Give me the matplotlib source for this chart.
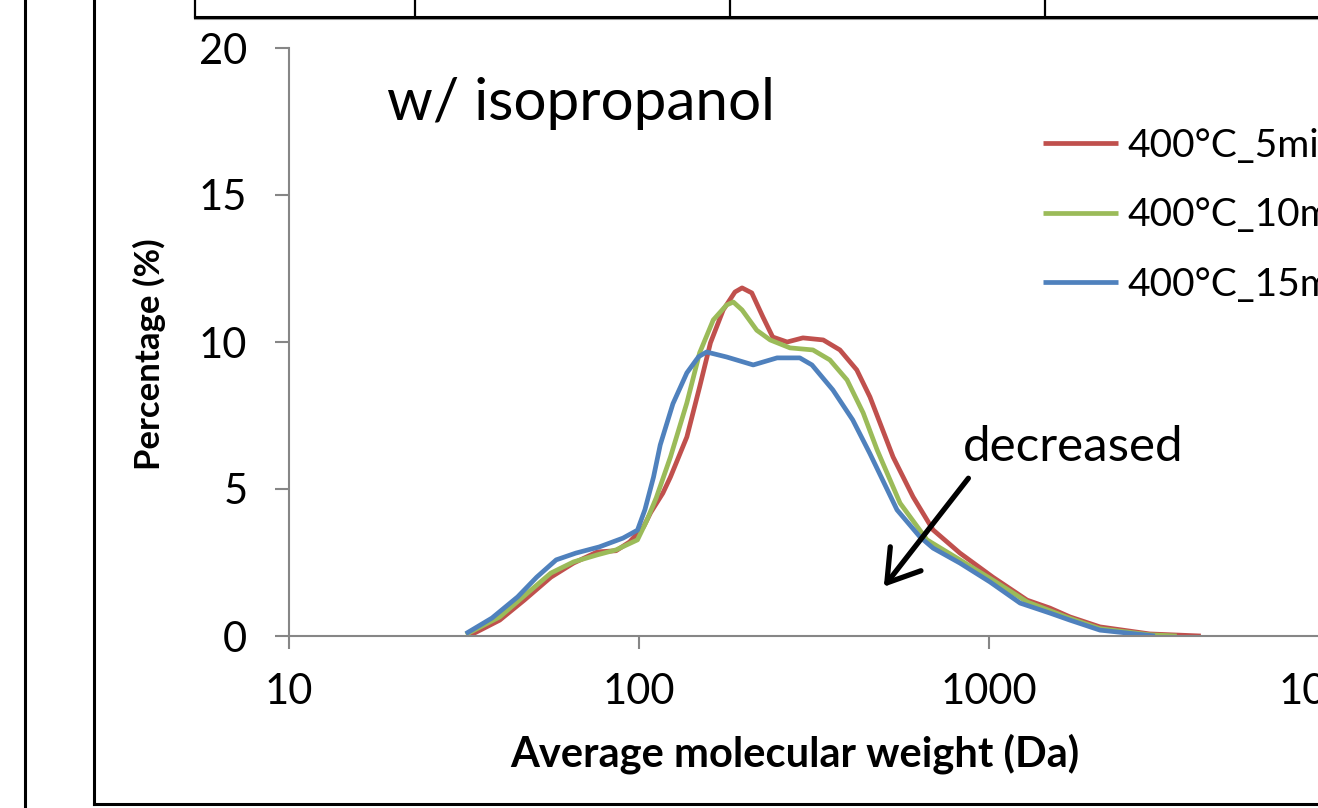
import matplotlib
matplotlib.use("Agg")
import matplotlib.pyplot as plt
from matplotlib.lines import Line2D
from matplotlib.ticker import NullLocator

plt.rcParams['font.family'] = ['Lato', 'DejaVu Sans']

# molecular weight (Da) and percentage (%) for each run
mw_5min = [33, 40, 47, 56, 65, 76, 86, 94, 103, 108, 117, 123, 137, 149, 160,
           174, 188, 197, 210, 226, 241, 265, 294, 336, 375, 419, 457, 532,
           607, 692, 826, 1026, 1285, 1493, 1703, 2075, 2880, 4030]
pct_5min = [0.03, 0.54, 1.22, 2.0, 2.48, 2.86, 2.9, 3.2, 3.71, 4.2, 4.86, 5.41,
            6.77, 8.47, 9.97, 11.09, 11.7, 11.84, 11.67, 10.85, 10.17, 10.0,
            10.14, 10.07, 9.73, 9.05, 8.13, 6.09, 4.73, 3.61, 2.82, 2.0, 1.22,
            0.95, 0.65, 0.31, 0.07, 0.0]

mw_10min = [32, 40, 48, 56, 65, 76, 86, 99, 105, 112, 123, 137, 149, 163, 178,
            186, 197, 217, 237, 270, 314, 351, 393, 437, 479, 557, 665, 826,
            1026, 1285, 1703, 2075, 2880, 3440]
pct_10min = [0.05, 0.65, 1.46, 2.14, 2.52, 2.76, 2.93, 3.27, 3.9, 4.7, 6.09,
             7.93, 9.63, 10.75, 11.26, 11.36, 11.09, 10.4, 10.07, 9.8, 9.73,
             9.39, 8.71, 7.59, 6.33, 4.52, 3.27, 2.59, 1.9, 1.16, 0.6, 0.25,
             0.04, 0.0]

mw_15min = [32, 38, 45, 51, 58, 66, 77, 90, 99, 104, 110, 115, 125, 137, 148,
            156, 178, 212, 248, 288, 312, 358, 408, 457, 546, 635, 692, 826,
            1006, 1227, 1493, 1703, 2075, 2980]
pct_15min = [0.08, 0.61, 1.33, 2.0, 2.59, 2.82, 3.03, 3.33, 3.6, 4.3, 5.4, 6.5,
             7.9, 8.95, 9.5, 9.66, 9.49, 9.22, 9.46, 9.46, 9.22, 8.37, 7.35,
             6.2, 4.29, 3.37, 2.99, 2.48, 1.84, 1.12, 0.78, 0.54, 0.2, 0.0]

labels = ['400°C_5min', '400°C_10min', '400°C_15min']
colors = ['#C0504D', '#9BBB59', '#4F81BD']
y_ticks = [0, 5, 10, 15, 20]
x_ticks = [10, 100, 1000, 10000]

W, H = 1318, 808
fig = plt.figure(figsize=(W / 100, H / 100), dpi=100)

# surrounding page lines (document frame + table above the chart)
def fline(x0, y0, x1, y1, lw=2.2, color='black'):
    fig.add_artist(Line2D([x0 / W, x1 / W], [1 - y0 / H, 1 - y1 / H],
                          color=color, lw=lw, transform=fig.transFigure))

fline(25, 0, 25, H)
fline(94, 0, 94, 804)
fline(94, 804, W, 804)
fline(195, 19, W, 19, lw=1.5, color='#9a9a9a')
fline(195, 17, W, 17)
for xv in [195, 415, 730, 1045]:
    fline(xv, 0, xv, 17, lw=1.6)

ax = fig.add_axes([289 / W, (H - 636) / H, 1050 / W, 588 / H])

for mw, pct, lab, c in zip([mw_5min, mw_10min, mw_15min],
                           [pct_5min, pct_10min, pct_15min], labels, colors):
    ax.plot(mw, pct, color=c, lw=3.4, label=lab, solid_capstyle='butt',
            solid_joinstyle='round')

ax.set_xscale('log')
ax.set_xlim(10, 10000)
ax.set_ylim(0, 20)
ax.set_xticks(x_ticks)
ax.set_xticklabels([str(v) for v in x_ticks])
ax.xaxis.set_minor_locator(NullLocator())
ax.set_yticks(y_ticks)
ax.set_yticklabels([str(v) for v in y_ticks])

for s in ['top', 'right']:
    ax.spines[s].set_visible(False)
for s in ['left', 'bottom']:
    ax.spines[s].set_color('#868686')
    ax.spines[s].set_linewidth(1.5)

ax.tick_params(axis='y', direction='out', length=10, width=1.5,
               color='#868686', pad=20, labelsize=30)
ax.tick_params(axis='x', direction='out', length=9.5, width=1.5,
               color='#868686', pad=17, labelsize=30)

ax.set_ylabel('Percentage (%)', fontsize=25, fontweight='bold')
ax.set_xlabel('Average molecular weight (Da)', fontsize=30, fontweight='bold')
ax.xaxis.set_label_coords((795 - 289) / 1050, -(733 - 636) / 588)
ax.yaxis.set_label_coords(-(289 - 166) / 1050, (636 - 354) / 588)

ax.text(19.1, 18.1, 'w/ isopropanol', fontsize=42, ha='left', va='center')
ax.text(843, 6.43, 'decreased', fontsize=35.5, ha='left', va='center')
ax.annotate('', xy=(495, 1.6), xytext=(883, 5.44),
            arrowprops=dict(arrowstyle='->,head_length=0.55,head_width=0.35',
                            lw=3.8, color='black', mutation_scale=40))

ax.legend(loc='upper left', bbox_to_anchor=(1043 / W, 1 - 128 / H),
          bbox_transform=fig.transFigure, frameon=False, fontsize=28,
          handlelength=1.93, handletextpad=0.23, labelspacing=0.86,
          borderpad=0, borderaxespad=0)

fig.savefig('out.png', dpi=100)
